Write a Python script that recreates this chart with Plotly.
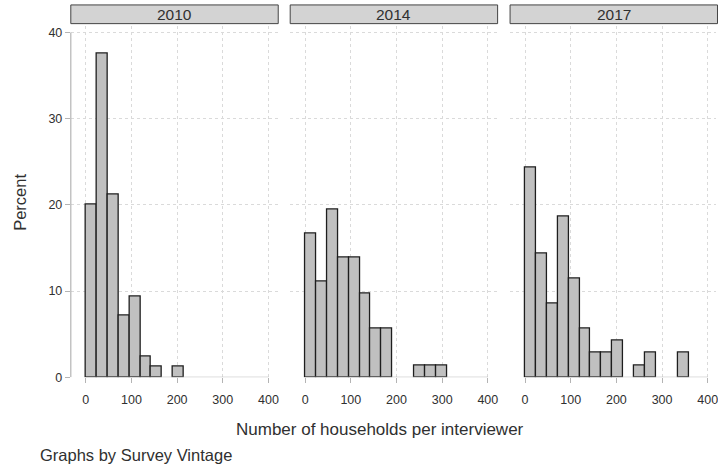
import plotly.graph_objects as go

# Histogram of households per interviewer, by survey vintage (percent of interviewers)
vintages = ["2010", "2014", "2017"]
bin_start = 0.0
bin_width = 23.9
pct_2010 = [20.0, 37.6, 21.2, 7.1, 9.4, 2.4, 1.2, 0.0, 1.2]
pct_2014 = [16.7, 11.1, 19.4, 13.9, 13.9, 9.7, 5.6, 5.6, 0.0, 0.0, 1.4, 1.4, 1.4]
pct_2017 = [24.3, 14.3, 8.6, 18.6, 11.4, 5.7, 2.9, 2.9, 4.3, 0.0, 1.4, 2.9, 0.0, 0.0, 2.9]
x_ticks = [0, 100, 200, 300, 400]
y_ticks = [0, 10, 20, 30, 40]

W, H = 718, 467
FONT = "Liberation Sans, Arial, sans-serif"
TXT = "#303030"
AXC = "#b4b4b4"
GRID = "#dadada"


def px(v):
    return v / W


def py(v):
    return 1 - v / H


series = [pct_2010, pct_2014, pct_2017]
panel_left = [71, 291, 511.5]
panel_w = 208
zero_off = 15.0          # pixels from panel edge to x = 0
xscale = 0.458           # pixels per household
plot_top, plot_bottom = 26, 383
yscale = 8.75            # pixels per percent

fig = go.Figure()
shapes = []
annotations = []

for i, (name, vals) in enumerate(zip(vintages, series)):
    idx = "" if i == 0 else str(i + 1)
    xs, ys = [], []
    for k, v in enumerate(vals):
        if v > 0:
            xs.append(bin_start + (k + 0.5) * bin_width)
            ys.append(v)
    fig.add_trace(go.Bar(
        x=xs, y=ys, width=bin_width,
        marker=dict(color="#c0c0c0", line=dict(color="#1e1e1e", width=1.3)),
        xaxis="x" + idx, yaxis="y" + idx, showlegend=False, name=name,
        hovertemplate="%{y:.1f}%<extra>" + name + "</extra>",
    ))

    left = panel_left[i]
    right = min(left + panel_w, W)
    xr = [-zero_off / xscale, (right - left - zero_off) / xscale]
    yr = [0, (plot_bottom - plot_top) / yscale]

    fig.update_layout(**{
        "xaxis" + idx: dict(
            domain=[px(left), px(right)], range=xr, anchor="y" + idx,
            tickmode="array", tickvals=x_ticks,
            ticks="outside", ticklen=5, tickcolor=AXC, tickwidth=1,
            ticklabelstandoff=6,
            showline=False, zeroline=False,
            showgrid=True, gridcolor=GRID, griddash="dot", gridwidth=1,
            ticklabeloverflow="allow",
            tickfont=dict(family=FONT, size=12.5, color=TXT),
        ),
        "yaxis" + idx: dict(
            domain=[py(plot_bottom), py(plot_top)], range=yr, anchor="x" + idx,
            tickmode="array", tickvals=y_ticks,
            ticks="outside" if i == 0 else "", ticklen=5, tickcolor=AXC, tickwidth=1,
            showticklabels=(i == 0),
            showline=False, zeroline=False,
            showgrid=True, gridcolor=GRID, griddash="dot", gridwidth=1,
            tickfont=dict(family=FONT, size=12.5, color=TXT),
        ),
    })

    # x axis line spanning the labelled range
    shapes.append(dict(type="line", xref="x" + idx, yref="y" + idx,
                       x0=x_ticks[0], x1=x_ticks[-1], y0=0, y1=0,
                       line=dict(color=AXC, width=1.2), layer="above"))

    # strip header
    shapes.append(dict(type="rect", xref="paper", yref="paper",
                       x0=px(left), x1=px(min(left + panel_w, W + 2)),
                       y0=py(24), y1=py(5),
                       fillcolor="#d3d3d3", line=dict(color="#444444", width=1)))
    annotations.append(dict(text=name, xref="paper", yref="paper",
                            x=px(left + panel_w / 2),
                            y=py(15), showarrow=False,
                            xanchor="center", yanchor="middle",
                            font=dict(family=FONT, size=15.5, color=TXT)))

# y axis line on the first panel
shapes.append(dict(type="line", xref="paper", yref="y",
                   x0=px(panel_left[0]), x1=px(panel_left[0]),
                   y0=y_ticks[0], y1=y_ticks[-1],
                   line=dict(color=AXC, width=1.2), layer="above"))

annotations += [
    dict(text="Percent", xref="paper", yref="paper", x=px(20), y=py(205),
         textangle=-90, showarrow=False, xanchor="center", yanchor="middle",
         font=dict(family=FONT, size=16.5, color=TXT)),
    dict(text="Number of households per interviewer", xref="paper", yref="paper",
         x=px(381), y=py(436), showarrow=False, xanchor="center", yanchor="middle",
         font=dict(family=FONT, size=17, color=TXT)),
    dict(text="Graphs by Survey Vintage", xref="paper", yref="paper",
         x=px(38), y=py(462), showarrow=False, xanchor="left", yanchor="middle",
         font=dict(family=FONT, size=16.5, color=TXT)),
]

fig.update_layout(
    width=W, height=H,
    margin=dict(l=0, r=0, t=0, b=0),
    paper_bgcolor="white", plot_bgcolor="white",
    bargap=0, shapes=shapes, annotations=annotations,
    font=dict(family=FONT, color=TXT),
)

fig.write_html("out.html")
